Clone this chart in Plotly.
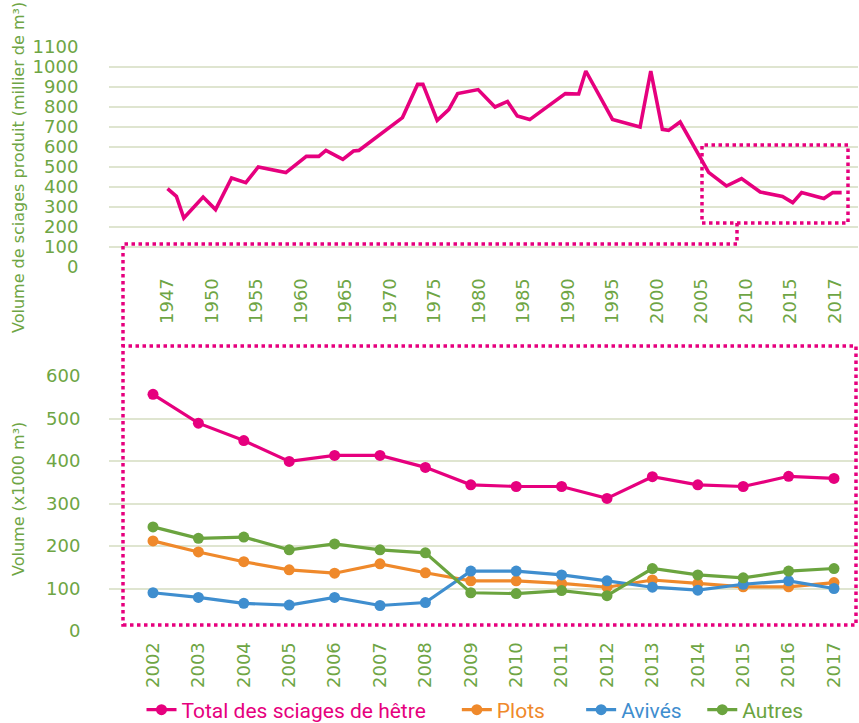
import numpy as np
import plotly.graph_objects as go

W, H = 859, 723

# ---------------- Data ----------------
# Top chart: long-run beech sawn-wood production (thousand m3)
top_label_years = [1947, 1950, 1955, 1960, 1965, 1970, 1975, 1980, 1985,
                   1990, 1995, 2000, 2005, 2010, 2015, 2017]
top_years = [1947, 1947.6, 1948.1, 1949.4, 1950.4, 1952.2, 1953.8, 1955.2, 1958.3, 1960.6,
             1962.0, 1962.8, 1964.7, 1965.9, 1966.5, 1971.4, 1973.1, 1973.7, 1975.3, 1976.6,
             1977.6, 1979.9, 1981.8, 1983.2, 1984.3, 1985.7, 1989.7, 1991.2, 1992.0, 1995.0,
             1998.1, 1999.3, 2000.6, 2001.3, 2002.6, 2005.8, 2007.8, 2009.5, 2011.6, 2014.1,
             2015.1, 2015.5, 2016.5, 2016.9, 2017.3]
top_values = [392, 353, 245, 350, 287, 445, 422, 500, 472, 553,
              553, 583, 538, 580, 583, 747, 913, 913, 733, 787,
              867, 887, 800, 828, 755, 737, 867, 865, 980, 738,
              700, 980, 688, 683, 725, 473, 405, 442, 375, 353,
              322, 372, 342, 372, 372]
top_yticks = list(range(0, 1101, 100))

# Bottom chart: 2002-2017 detail (x1000 m3)
years = list(range(2002, 2018))
total = [557, 489, 448, 399, 413, 413, 385, 344, 340, 340, 312, 363, 344, 340, 364, 359]
plots = [212, 186, 163, 144, 136, 158, 137, 118, 118, 112, 103, 120, 112, 104, 104, 114]
avives = [90, 79, 65, 61, 79, 60, 67, 141, 141, 132, 118, 103, 96, 110, 118, 100]
autres = [245, 218, 221, 191, 205, 191, 184, 90, 88, 95, 83, 147, 132, 125, 141, 147]
bottom_yticks = list(range(0, 601, 100))

series_names = ["Total des sciages de hêtre", "Plots", "Avivés", "Autres"]
series_colors = ["#e6007e", "#ef892b", "#3f8ecf", "#6ba43f"]

# ---------------- Styles ----------------
GREEN_TXT = "#6ea544"
GRID = "#dfe5d0"
FONT = "DejaVu Sans"
legend_pad = [5, 6, 3, 0]   # extra spacing after each legend entry


def px(x):
    return x / W


def py(y):
    return 1 - y / H


def year_to_axis(yrs):
    """Place years on the top chart's evenly spaced label axis (piecewise linear)."""
    ly = np.array(top_label_years, dtype=float)
    idx = np.arange(len(ly), dtype=float)
    y = np.asarray(yrs, dtype=float)
    pos = np.interp(y, ly, idx)
    hi = y > ly[-1]
    pos[hi] = idx[-1] + (y[hi] - ly[-1]) / (ly[-1] - ly[-2])
    lo = y < ly[0]
    pos[lo] = (y[lo] - ly[0]) / (ly[1] - ly[0])
    return pos


fig = go.Figure()

# top line
fig.add_trace(go.Scatter(
    x=year_to_axis(top_years), y=top_values, mode="lines",
    line=dict(color=series_colors[0], width=3.6),
    showlegend=False, xaxis="x", yaxis="y",
))

# bottom lines
for name, vals, col, pad in zip(series_names, [total, plots, avives, autres],
                                series_colors, legend_pad):
    fig.add_trace(go.Scatter(
        x=years, y=vals, mode="lines+markers",
        name=f"<span style='color:{col}'>{name}</span>" + "\u00a0" * pad,
        line=dict(color=col, width=3.2),
        marker=dict(color=col, size=11),
        xaxis="x2", yaxis="y2",
    ))

tickfont = dict(family=FONT, size=18, color=GREEN_TXT)

x_left, x_right = 109, 858
# top x: label index scale, label 0 at px 167.5, spacing 44.5 px
lab0, labsp = 167.5, 44.5
top_xrange = [(x_left - lab0) / labsp, (x_right - lab0) / labsp]
# bottom x: 2002 at px 153, 45.4 px/yr
b0, bsp = 153, 45.4
bot_xrange = [2002 + (x_left - b0) / bsp, 2002 + (x_right - b0) / bsp]

fig.update_layout(
    width=W, height=H,
    margin=dict(l=0, r=0, t=0, b=0, autoexpand=False),
    paper_bgcolor="white", plot_bgcolor="white",
    font=dict(family=FONT, color=GREEN_TXT),
    xaxis=dict(
        domain=[px(x_left), px(x_right)], anchor="y", automargin=False,
        range=top_xrange,
        tickmode="array", tickvals=list(range(len(top_label_years))),
        ticktext=[str(v) for v in top_label_years],
        tickangle=-90, tickfont=tickfont,
        showgrid=False, zeroline=False, showline=False,
        ticks="outside", ticklen=3, tickcolor="rgba(0,0,0,0)",
    ),
    yaxis=dict(
        domain=[py(267), py(47)], anchor="x", automargin=False,
        range=[0, 1100], tickmode="array", tickvals=top_yticks,
        tickfont=tickfont,
        showgrid=True, gridcolor=GRID, gridwidth=2,
        zeroline=False, showline=False,
        ticks="outside", ticklen=26, tickcolor="rgba(0,0,0,0)",
    ),
    xaxis2=dict(
        domain=[px(x_left), px(x_right)], anchor="y2", automargin=False,
        range=bot_xrange,
        tickmode="array", tickvals=years, ticktext=[str(v) for v in years],
        tickangle=-90, tickfont=tickfont,
        showgrid=False, zeroline=False, showline=False,
        ticks="outside", ticklen=3, tickcolor="rgba(0,0,0,0)",
    ),
    yaxis2=dict(
        domain=[py(631), py(376)], anchor="x2", automargin=False,
        range=[0, 600], tickmode="array", tickvals=bottom_yticks,
        tickfont=tickfont,
        showgrid=True, gridcolor=GRID, gridwidth=2,
        zeroline=False, showline=False,
        ticks="outside", ticklen=24, tickcolor="rgba(0,0,0,0)",
    ),
    legend=dict(
        orientation="h", x=px(475), xanchor="center", y=py(710), yanchor="middle",
        font=dict(family="Roboto", size=21),
        itemwidth=30, tracegroupgap=0,
    ),
    showlegend=True,
)

# axis titles
fig.add_annotation(
    text="Volume de sciages produit (millier de m³)", textangle=-90,
    xref="paper", yref="paper", x=px(18), y=py(168), xanchor="center", yanchor="middle",
    showarrow=False, font=dict(family=FONT, size=16, color=GREEN_TXT),
)
fig.add_annotation(
    text="Volume (x1000 m³)", textangle=-90,
    xref="paper", yref="paper", x=px(18), y=py(499), xanchor="center", yanchor="middle",
    showarrow=False, font=dict(family=FONT, size=16, color=GREEN_TXT),
)

# dotted zoom frames (decoration)
dot = dict(color="#e6007e", width=3.5, dash="3.5px,3.5px")
fig.add_shape(type="rect", xref="paper", yref="paper",
              x0=px(702), x1=px(848), y0=py(223), y1=py(145), line=dot)
fig.add_shape(type="path", xref="paper", yref="paper",
              path=f"M {px(737)},{py(223)} L {px(737)},{py(244)} L {px(123)},{py(244)} L {px(123)},{py(346)}",
              line=dot)
fig.add_shape(type="rect", xref="paper", yref="paper",
              x0=px(123), x1=px(856), y0=py(625), y1=py(346), line=dot)

fig.write_html(
    "out.html",
    config={"displayModeBar": False},
    post_script="document.body.style.margin='0px';document.body.style.padding='0px';",
)
